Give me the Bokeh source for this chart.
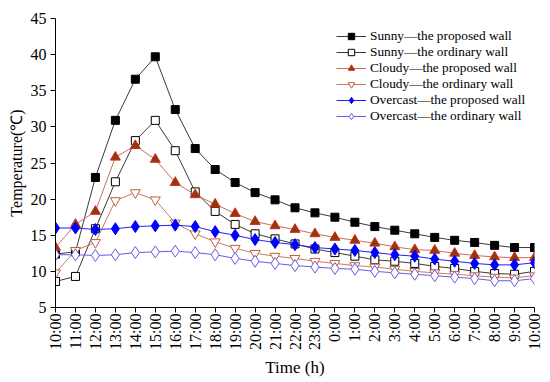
import numpy as np
from bokeh.plotting import figure
from bokeh.models import FixedTicker, Range1d, Legend, LegendItem
from bokeh.embed import file_html
from bokeh.resources import INLINE

time_labels = ["10:00", "11:00", "12:00", "13:00", "14:00", "15:00", "16:00", "17:00",
               "18:00", "19:00", "20:00", "21:00", "22:00", "23:00", "0:00", "1:00",
               "2:00", "3:00", "4:00", "5:00", "6:00", "7:00", "8:00", "9:00", "10:00"]
x_idx = list(range(len(time_labels)))

sunny_proposed = [12.4, 12.7, 23.0, 30.9, 36.6, 39.7, 32.4, 27.0, 24.1, 22.3, 20.9, 19.9,
                  18.8, 18.1, 17.5, 16.8, 16.2, 15.7, 15.2, 14.7, 14.3, 14.0, 13.6, 13.3, 13.3]
sunny_ordinary = [8.6, 9.3, 15.9, 22.4, 28.1, 30.9, 26.7, 21.0, 18.3, 16.5, 15.2, 14.5,
                  13.8, 13.1, 12.6, 12.1, 11.6, 11.4, 11.1, 10.7, 10.4, 10.0, 9.7, 9.6, 10.0]
cloudy_proposed = [13.3, 16.5, 18.3, 25.8, 27.4, 25.5, 22.3, 20.6, 19.3, 18.0, 16.9, 16.3,
                   15.8, 15.2, 14.7, 14.3, 13.9, 13.4, 13.0, 12.9, 12.5, 12.2, 12.0, 11.9, 11.9]
cloudy_ordinary = [9.8, 12.9, 14.0, 19.8, 20.9, 19.9, 16.7, 15.2, 14.1, 13.2, 12.5, 12.1,
                   11.8, 11.4, 11.1, 10.8, 10.6, 10.3, 10.0, 9.8, 9.6, 9.4, 9.2, 9.1, 9.4]
overcast_proposed = [16.0, 16.0, 15.8, 15.9, 16.2, 16.3, 16.4, 16.2, 15.5, 15.0, 14.4, 14.0,
                     13.7, 13.3, 13.1, 12.9, 12.6, 12.3, 12.1, 11.7, 11.4, 11.1, 10.9, 10.9, 11.2]
overcast_ordinary = [12.3, 12.3, 12.2, 12.3, 12.6, 12.7, 12.8, 12.6, 12.3, 11.8, 11.4, 11.1,
                     10.8, 10.6, 10.4, 10.3, 10.0, 9.8, 9.6, 9.4, 9.2, 9.0, 8.7, 8.7, 9.0]

series_names = ["Sunny\u2014the proposed wall", "Sunny\u2014the ordinary wall",
                "Cloudy\u2014the proposed wall", "Cloudy\u2014the ordinary wall",
                "Overcast\u2014the proposed wall", "Overcast\u2014the ordinary wall"]
y_ticks = [5, 10, 15, 20, 25, 30, 35, 40, 45]

FONT = "Liberation Serif"

p = figure(width=548, height=382, output_backend="svg", toolbar_location=None,
           x_range=Range1d(0, 24), y_range=Range1d(5, 45),
           min_border_left=55, min_border_right=14, min_border_top=18, min_border_bottom=75)
p.outline_line_color = None
p.xgrid.visible = False
p.ygrid.visible = False
p.background_fill_color = "white"
p.border_fill_color = "white"

styles = [
    dict(data=sunny_proposed, line="#3a3a3a", lw=1, marker="square", size=8,
         fill="#000000", edge="#000000"),
    dict(data=sunny_ordinary, line="#3a3a3a", lw=1, marker="square", size=8,
         fill="white", edge="#000000"),
    dict(data=cloudy_proposed, line="#c8705c", lw=1, marker="triangle", size=10,
         fill="#8f3a0c", edge="#d8281a"),
    dict(data=cloudy_ordinary, line="#c08060", lw=1, marker="inverted_triangle", size=10,
         fill="white", edge="#c0603c"),
    dict(data=overcast_proposed, line="#2020ff", lw=1, marker="diamond", size=12,
         fill="#0000ff", edge="#0000ff"),
    dict(data=overcast_ordinary, line="#6a5ae0", lw=1, marker="diamond", size=12,
         fill="white", edge="#6a5ae0"),
]

items = []
for name, st in zip(series_names, styles):
    lr = p.line(x_idx, st["data"], line_color=st["line"], line_width=st["lw"])
    sr = p.scatter(x_idx, st["data"], marker=st["marker"], size=st["size"],
                   fill_color=st["fill"], line_color=st["edge"], line_width=1)
    items.append(LegendItem(label=name, renderers=[lr, sr]))

legend = Legend(items=items, location=(281, 183))
legend.border_line_color = None
legend.background_fill_alpha = 0
legend.label_text_font = FONT
legend.label_text_font_size = "13.3px"
legend.label_text_color = "black"
legend.glyph_width = 30
legend.glyph_height = 16
legend.label_height = 16
legend.spacing = 0
legend.padding = 2
legend.margin = 0
legend.label_standoff = 4
p.add_layout(legend)

# axes
p.xaxis.ticker = FixedTicker(ticks=x_idx, minor_ticks=[])
p.xaxis.major_label_overrides = {i: lab for i, lab in enumerate(time_labels)}
p.xaxis.major_label_orientation = np.pi / 2
p.yaxis.ticker = FixedTicker(ticks=y_ticks, minor_ticks=[])

for ax in (p.xaxis[0], p.yaxis[0]):
    ax.axis_line_color = "black"
    ax.axis_line_width = 1
    ax.major_tick_line_color = "black"
    ax.major_tick_out = 5
    ax.major_tick_in = 0
    ax.minor_tick_line_color = None
    ax.major_label_text_font = FONT
    ax.major_label_text_color = "black"
    ax.axis_label_text_font = FONT
    ax.axis_label_text_font_style = "normal"
    ax.axis_label_text_color = "black"

p.xaxis.major_label_text_font_size = "16px"
p.yaxis.major_label_text_font_size = "16px"
p.xaxis.major_label_standoff = 1
p.yaxis.major_label_standoff = 4
p.xaxis.axis_label = "Time (h)"
p.xaxis.axis_label_text_font_size = "17px"
p.xaxis.axis_label_standoff = 5
p.yaxis.axis_label = "Temperature(\u2103)"
p.yaxis.axis_label_text_font_size = "16px"
p.yaxis.axis_label_standoff = 3

open("out.html", "w").write(file_html(p, INLINE))
